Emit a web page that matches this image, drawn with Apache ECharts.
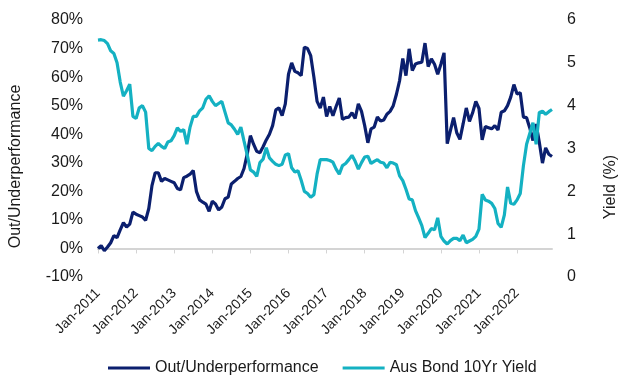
<!DOCTYPE html>
<html>
<head>
<meta charset="utf-8">
<script src="https://cdn.jsdelivr.net/npm/echarts@6/dist/echarts.min.js"></script>
<style>
html,body{margin:0;padding:0;background:#fff;}
#chart{width:627px;height:378px;}
</style>
</head>
<body>
<div id="chart"></div>
<script>
// Monthly categories Jan-2011 .. Dec-2022
var monthNames = ['Jan','Feb','Mar','Apr','May','Jun','Jul','Aug','Sep','Oct','Nov','Dec'];
var years = [2011,2012,2013,2014,2015,2016,2017,2018,2019,2020,2021,2022];
var categories = [];
years.forEach(function (y) { monthNames.forEach(function (m) { categories.push(m + '-' + y); }); });

// Out/Underperformance (%), left axis
var outUnder = [
  0, 1, -0.8, 0.5, 2, 4.5, 3.8, 6.5, 9, 7.5, 8.5, 12.7,
  12, 11.5, 11, 9.8, 14, 22, 26.5, 26.5, 23.5, 24.5, 24, 23.5,
  23, 21, 20.5, 24.8, 25.3, 26, 27.3, 20, 17, 16.2, 15.5, 13,
  16.5, 15.6, 13.5, 14.5, 17.4, 18, 22.6, 23.5, 24.5, 25.2, 28, 33,
  39.5, 36.5, 34, 33.5, 35.6, 38, 40, 43, 48.5, 49.2, 46.5, 50.6,
  61, 65, 62, 61.5, 60.5, 70.5, 70, 67.5, 60, 51.5, 49.2, 53,
  46.2, 49.7, 46.5, 49.7, 52.7, 45.2, 45.8, 46, 47.5, 45.5, 50.6, 48,
  43, 37, 41.9, 42.5, 46, 44.6, 45, 47, 48, 50, 54, 58.8,
  66.5, 60.5, 69.9, 62.3, 64.6, 65, 65.2, 71.9, 63.7, 66.4, 64.5, 61,
  64.5, 68.5, 36.7, 41.3, 45.8, 40.5, 38.2, 43.6, 49.2, 44.5, 47.5, 51.5,
  49, 38, 42.7, 42.3, 41.9, 43, 41.5, 47.7, 48.2, 50, 53, 57.4,
  54.1, 54.5, 46, 45.8, 42.2, 37.8, 43.6, 37.2, 29.9, 35.2, 33, 32.2
];

// Aus Bond 10Yr Yield (%), right axis
var bondYield = [
  5.53, 5.54, 5.52, 5.45, 5.28, 5.22, 5.0, 4.55, 4.22, 4.35, 4.5, 3.75,
  3.7, 3.95, 4.0, 3.85, 3.0, 2.95, 3.05, 3.12, 3.05, 3.0, 3.15, 3.18,
  3.3, 3.48, 3.4, 3.44, 3.1, 3.5, 3.75, 3.75, 3.88, 3.95, 4.15, 4.23,
  4.1, 4.0, 4.05, 4.1, 3.85, 3.6, 3.55, 3.45, 3.33, 3.5, 3.17, 2.85,
  2.5, 2.45, 2.35, 2.67, 2.75, 3.02, 2.78, 2.7, 2.63, 2.6, 2.63, 2.85,
  2.88, 2.55, 2.45, 2.48, 2.26, 2.0, 1.95, 1.86, 1.92, 2.4, 2.74, 2.74,
  2.74, 2.72, 2.68, 2.52, 2.4, 2.6, 2.65, 2.74, 2.84, 2.7, 2.52, 2.67,
  2.8, 2.82, 2.65, 2.7, 2.74, 2.68, 2.66, 2.55, 2.68, 2.66, 2.62, 2.36,
  2.25, 2.05, 1.82, 1.8, 1.55, 1.38, 1.2, 0.92, 1.02, 1.13, 1.1, 1.38,
  0.95, 0.84, 0.77, 0.85, 0.9, 0.9, 0.85, 0.98, 0.8, 0.84, 0.88, 0.95,
  1.12, 1.93, 1.8, 1.77, 1.72, 1.6, 1.25, 1.16, 1.45, 2.1, 1.72, 1.7,
  1.8, 1.95, 2.6, 3.1, 3.35, 3.6, 3.1, 3.84, 3.87, 3.8, 3.86, 3.91
];

var seriesNames = ['Out/Underperformance', 'Aus Bond 10Yr Yield'];
var leftAxisName = 'Out/Underperformance';
var rightAxisName = 'Yield (%)';

var FONT = '"Liberation Sans", Arial, sans-serif';
var NAVY = '#0B1F6E';
var TEAL = '#14B1C2';

var chart = echarts.init(document.getElementById('chart'), null, {renderer: 'canvas'});
chart.setOption({
  animation: false,
  textStyle: {fontFamily: FONT, color: '#1a1a1a'},
  grid: {left: 97, right: 70, top: 20, bottom: 101, containLabel: false},
  legend: {
    left: 103, top: 355,
    icon: 'rect', itemWidth: 42, itemHeight: 3, itemGap: 24,
    textStyle: {fontFamily: FONT, fontSize: 16, color: '#1a1a1a'},
    data: seriesNames
  },
  xAxis: [
    {
      type: 'category', data: categories, boundaryGap: false, position: 'bottom',
      axisLine: {show: true, onZero: true, lineStyle: {color: '#D4D4D4', width: 2}},
      axisTick: {show: true, interval: 11, length: 5, lineStyle: {color: '#D4D4D4', width: 1}},
      axisLabel: {show: false},
      splitLine: {show: false}
    },
    {
      type: 'category', data: categories, boundaryGap: false, position: 'bottom',
      axisLine: {show: false, onZero: false},
      axisTick: {show: false},
      axisLabel: {show: true, interval: 11, rotate: 45, margin: 14, fontSize: 14, fontFamily: FONT, color: '#1a1a1a'},
      splitLine: {show: false}
    }
  ],
  yAxis: [
    {
      type: 'value', min: -10, max: 80, interval: 10, position: 'left',
      name: leftAxisName, nameLocation: 'middle', nameRotate: 90, nameGap: 74,
      nameTextStyle: {fontFamily: FONT, fontSize: 16, color: '#1a1a1a', padding: [0, 36, 0, 0]},
      axisLine: {show: false}, axisTick: {show: false}, splitLine: {show: false},
      axisLabel: {formatter: '{value}%', fontSize: 16, margin: 15, color: '#1a1a1a', fontFamily: FONT}
    },
    {
      type: 'value', min: 0, max: 6, interval: 1, position: 'right',
      name: rightAxisName, nameLocation: 'middle', nameRotate: 90, nameGap: 51,
      nameTextStyle: {fontFamily: FONT, fontSize: 16, color: '#1a1a1a', padding: [0, 77, 0, 0]},
      axisLine: {show: false}, axisTick: {show: false}, splitLine: {show: false},
      axisLabel: {fontSize: 16, margin: 15, color: '#1a1a1a', fontFamily: FONT}
    }
  ],
  series: [
    {
      name: seriesNames[0], type: 'line', data: outUnder, xAxisIndex: 0, yAxisIndex: 0,
      symbol: 'none', lineStyle: {color: NAVY, width: 3.2}, itemStyle: {color: NAVY}
    },
    {
      name: seriesNames[1], type: 'line', data: bondYield, xAxisIndex: 0, yAxisIndex: 1,
      symbol: 'none', lineStyle: {color: TEAL, width: 3.2}, itemStyle: {color: TEAL}
    }
  ]
});
</script>
</body>
</html>
